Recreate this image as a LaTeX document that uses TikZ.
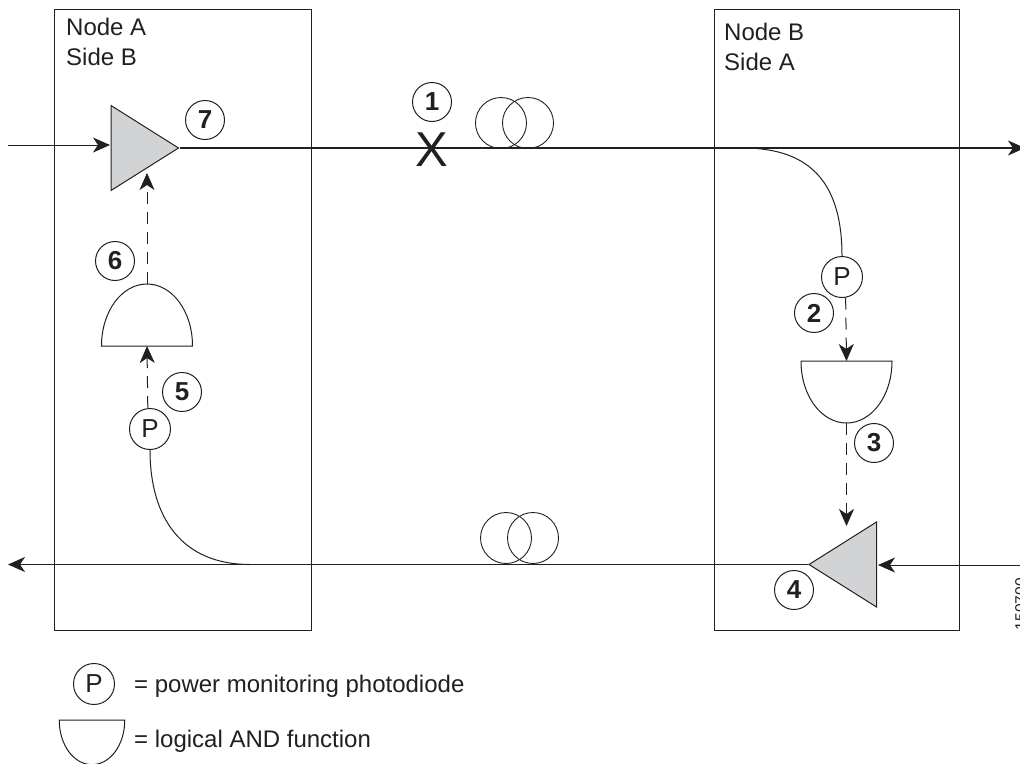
\documentclass[tikz,border=0pt]{standalone}
\usepackage{fontspec}
\setmainfont{Liberation Sans}
\usetikzlibrary{arrows.meta,shapes.geometric}
\definecolor{ink}{HTML}{231F20}
\definecolor{ampgray}{HTML}{D1D3D4}
\tikzset{
    box/.style={draw=ink, line width=1pt, minimum width=#1, minimum height=621pt, inner sep=0pt},
    amp/.style={draw=ink, fill=ampgray, line width=1pt, isosceles triangle, isosceles triangle stretches, minimum width=85pt, minimum height=67.5pt, inner sep=0pt},
    pd/.style={circle, draw=ink, line width=1pt, minimum size=41pt, inner sep=0pt, text=ink, font=\fontsize{26}{28}\selectfont},
    num/.style={circle, draw=ink, line width=1pt, minimum size=39pt, inner sep=0pt, text=ink, font=\fontsize{26}{28}\selectfont\bfseries},
    spool/.style={circle, draw=ink, line width=0.9pt, minimum size=51pt, inner sep=0pt},
    txt/.style={anchor=base west, text=ink, inner sep=0pt, font=\fontsize{24}{28}\selectfont},
    tail/.style={draw=ink, line width=1pt},
    sense/.style={draw=ink, line width=1pt, dash pattern=on 12pt off 8pt, -{Stealth[length=17pt,width=15pt,inset=5pt]}},
    feed/.style={draw=ink, line width=1pt, -{Stealth[length=17pt,width=15pt,inset=5pt]}},
    andgate/.pic={
        \coordinate (-top) at (0,0);
        \coordinate (-tip) at (0,62);
        \draw[ink, line width=1pt] (-45.5,0) .. controls (-45.5,35) and (-25,62) .. (0,62)
            .. controls (25,62) and (45.5,35) .. (45.5,0) -- cycle;
    }
}
\begin{document}
\begin{tikzpicture}[x=1pt, y=-1pt]
    \clip (0,0) rectangle (1020,763);
    \node[box=257pt] (boxA) at (182.5,319.5) {};
    \node[box=245pt] (boxB) at (836.5,319.5) {};
    \node[txt] (nameA) at (66,35) {Node A};
    \node[txt] (sideA) at (66,65) {Side B};
    \node[txt] (nameB) at (724,40) {Node B};
    \node[txt] (sideB) at (724,70) {Side A};

    \node[amp, anchor=lower side] (ampA) at (110.5,148) {};
    \node[amp, shape border rotate=180, anchor=lower side] (ampB) at (877,564.5) {};
    \node[pd] (pdA) at (150,429) {P};
    \node[pd] (pdB) at (842,277) {P};
    \pic[rotate=180] (andA) at (147,346) {andgate};
    \pic (andB) at (846.5,361) {andgate};

    \coordinate (inA) at (8,145);
    \coordinate (inAend) at (110,145);
    \coordinate (inB) at (1020,565);
    \coordinate (inBend) at (878,565);
    \coordinate (outA) at (1025,148);
    \coordinate (outB) at (8,564.5);
    \coordinate (tapA) at (250,564.5);
    \coordinate (tapB) at (743,148);
    \coordinate (senseA) at (147,173);
    \coordinate (senseB) at (846.5,526);

    \draw[feed] (inA) -- (inAend);
    \draw[feed] (inB) -- (inBend);
    \draw[feed, line width=1.3pt] (ampA.apex) -- (outA);
    \draw[feed, line width=1.3pt] (ampB.apex) -- (outB);
    \draw[tail] (tapB) .. controls +(70,0) and +(0,-70) .. (pdB.north);
    \draw[tail] (tapA) .. controls +(-68,0) and +(0,68) .. (pdA.south);
    \draw[sense] (pdB.-80) -- (andB-top);
    \draw[sense] (andB-tip) -- (senseB);
    \draw[sense] (pdA.96) -- (andA-top);
    \draw[sense] (andA-tip) -- (senseA);

    \node[spool] (spoolA) at (501,123) {};
    \node[spool] (spoolB) at (528,123) {};
    \node[spool] (spoolC) at (506,538) {};
    \node[spool] (spoolD) at (533,538) {};
    \node[text=ink, font=\fontsize{49}{52}\selectfont, inner sep=0pt] (cut) at (432,150) {X};

    \node[num] (n1) at (432,102) {1};
    \node[num] (n2) at (814,313) {2};
    \node[num] (n3) at (874,443) {3};
    \node[num] (n4) at (794,590) {4};
    \node[num] (n5) at (182,392) {5};
    \node[num] (n6) at (115,261) {6};
    \node[num] (n7) at (205,120) {7};

    \node[text=ink, rotate=90, inner sep=0pt, font=\fontsize{15.6}{18}\selectfont] (figid) at (1020.7,604) {150700};

    \node[pd] (keyP) at (94,684) {P};
    \node[txt] (keyPtxt) at (134,692) {= power monitoring photodiode};
    \pic[scale=0.72] (keyand) at (92,720) {andgate};
    \node[txt] (keyandtxt) at (134,747) {= logical AND function};
\end{tikzpicture}
\end{document}
